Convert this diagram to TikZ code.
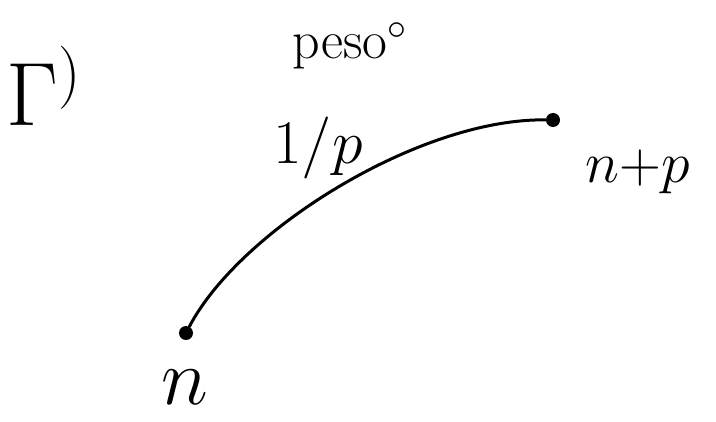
\RequirePackage{fix-cm}
\documentclass[tikz,border=0pt]{standalone}
\usepackage{amsmath}
\usetikzlibrary{positioning}
\tikzset{
  vtx/.style={circle, fill=black, inner sep=0pt, minimum size=14pt},
  lbl/.style={inner sep=0pt},
  edge/.style={line width=3pt, line cap=round},
}
\newcommand{\sz}[1]{\fontsize{#1}{#1}\selectfont}
\begin{document}
\begin{tikzpicture}[x=1pt, y=-1pt]
\useasboundingbox (0,0) rectangle (716,422);
% vertices
\node[vtx] (vn) at (186,333) {};
\node[vtx] (vnp) at (553,120) {};
% weighted edge
\draw[edge] (vn) .. controls (240,230) and (420,118) .. (vnp);
% labels
\node[lbl, font=\sz{80}] (ln) at (185,387) {$n$};
\node[lbl, font=\sz{58}] (lnp) at (638,172) {$n{+}p$};
\node[lbl, font=\sz{62}] (lw) at (318,148) {$1/p$};
\node[lbl, font=\sz{54}] (lpeso) at (350,46) {$\mathrm{peso}^{\circ}$};
\node[lbl, font=\sz{90}] (lgraph) at (44,86) {$\Gamma^{)}$};
\end{tikzpicture}
\end{document}
